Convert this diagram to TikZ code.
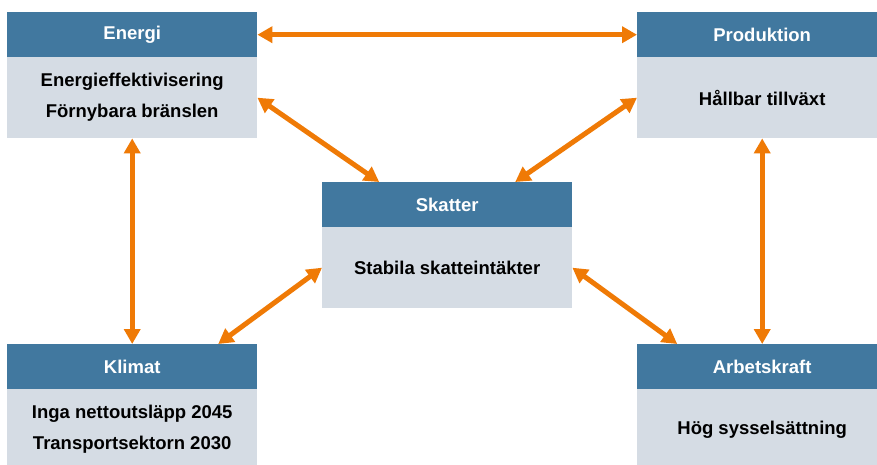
\documentclass[tikz,border=0pt]{standalone}
\usepackage{fontspec}
\setmainfont{Liberation Sans}
\usetikzlibrary{arrows.meta}
\definecolor{hdr}{HTML}{41789F}
\definecolor{bdy}{HTML}{D5DCE4}
\definecolor{arr}{HTML}{EF7A06}
\begin{document}
\begin{tikzpicture}[x=1pt,y=-1pt,
  hbox/.style={fill=hdr, draw=none, minimum width=250pt, minimum height=45pt, inner sep=0pt,
    text=white, anchor=north west, font=\bfseries\fontsize{18.5}{22}\selectfont},
  bbox/.style={fill=bdy, draw=none, minimum width=250pt, minimum height=81pt, inner sep=0pt,
    anchor=north west, align=center, font=\bfseries\fontsize{18.5}{31}\selectfont},
  link/.style={arr, line width=5pt,
    {Triangle[length=15pt,width=16pt]}-{Triangle[length=15pt,width=16pt]}}]
\useasboundingbox (0,0) rectangle (877,464);
\clip (0,0) rectangle (877,464);
% boxes
\node[hbox] (eH) at (7,12) {Energi};
\node[bbox] (eB) at (7,57) {Energieffektivisering\\Förnybara bränslen};
\node[hbox] (pH) at (637,12) {Produktion};
\node[bbox] (pB) at (637,57) {Hållbar tillväxt};
\node[hbox] (sH) at (322,182) {Skatter};
\node[bbox] (sB) at (322,227) {Stabila skatteintäkter};
\node[hbox] (kH) at (7,344) {Klimat};
\node[bbox] (kB) at (7,389) {Inga nettoutsläpp 2045\\Transportsektorn 2030};
\node[hbox] (aH) at (637,344) {Arbetskraft};
\node[bbox] (aB) at (637,389) {Hög sysselsättning};
% connectors
\draw[link] (eH.east) -- (pH.west);
\draw[link] (eB.east) -- ([xshift=-68pt]sH.north);
\draw[link] (pB.west) -- ([xshift=68pt]sH.north);
\draw[link] (eB.south) -- (kH.north);
\draw[link] (pB.south) -- (aH.north);
\draw[link] (sB.west) -- ([xshift=86pt]kH.north);
\draw[link] (sB.east) -- ([xshift=-85pt]aH.north);
\end{tikzpicture}
\end{document}
